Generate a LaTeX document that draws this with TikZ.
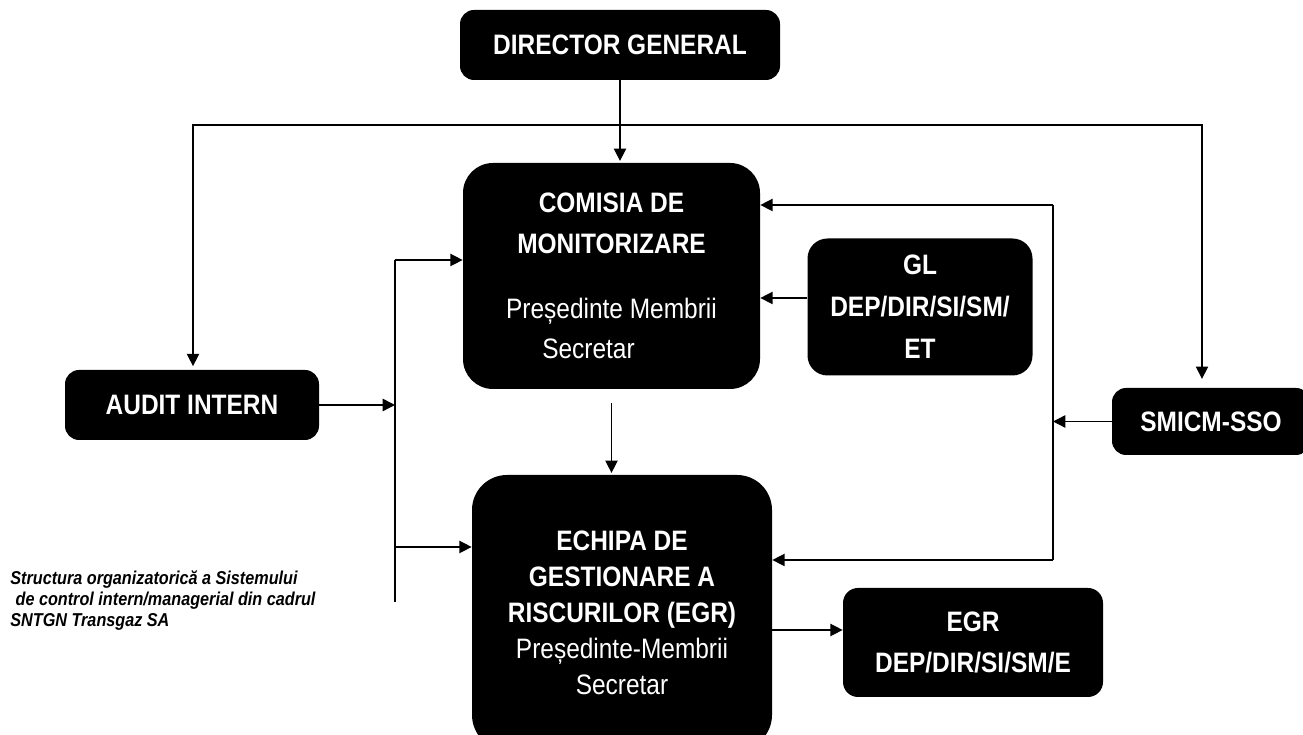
\documentclass[tikz,border=0pt]{standalone}
\usepackage{fontspec}
\setmainfont{Liberation Sans}[FakeStretch=0.87]
\usetikzlibrary{arrows.meta, positioning, calc}

\begin{document}
\begin{tikzpicture}[
  dbox/.style={fill=black, text=white, align=center, font=\bfseries\fontsize{16}{23}\selectfont, inner sep=2pt},
  arr/.style={-{Triangle[length=7pt, width=7pt]}, line width=0.8pt},
  wire/.style={line width=0.8pt}
]
  \useasboundingbox (0,0) rectangle (26.06,14.7);
  \node[dbox, rounded corners=8pt, minimum width=6.4cm, minimum height=1.4cm] (dg) at (12.4, 13.8) {DIRECTOR GENERAL};
  \node[dbox, rounded corners=0.6cm, minimum width=5.94cm, minimum height=4.52cm] (com) at (12.23, 9.18)
    {COMISIA DE\\MONITORIZARE\\[14pt]\mdseries Președinte Membrii\\\mdseries\hspace*{-0.92cm}Secretar};
  \node[dbox, rounded corners=0.4cm, minimum width=4.5cm, minimum height=2.74cm, font=\bfseries\fontsize{16}{24}\selectfont] (gl) at (18.4, 8.56)
    {GL\\DEP/DIR/SI/SM/\\ET};
  \node[dbox, rounded corners=8pt, minimum width=5.08cm, minimum height=1.4cm] (audit) at (3.84, 6.6) {AUDIT INTERN};
  \node[dbox, rounded corners=8pt, minimum width=3.96cm, minimum height=1.34cm] (smicm) at (24.22, 6.27) {SMICM-SSO};
  \node[dbox, rounded corners=0.7cm, minimum width=6cm, minimum height=5.5cm, font=\bfseries\fontsize{16}{20.5}\selectfont] (ech) at (12.44, 2.45)
    {ECHIPA DE\\GESTIONARE A\\RISCURILOR (EGR)\\\mdseries Președinte-Membrii\\\mdseries Secretar};
  \node[dbox, rounded corners=0.3cm, minimum width=5.2cm, minimum height=2.18cm, font=\bfseries\fontsize{16}{22.8}\selectfont] (egr) at (19.46, 1.85)
    {EGR\\DEP/DIR/SI/SM/E};
  \node[anchor=north west, align=left, inner sep=0pt, font=\bfseries\itshape\fontsize{10.6}{12}\selectfont] (caption) at (0.2, 3.3)
    {Structura organizatorică a Sistemului\\\hspace*{3pt}de control intern/managerial din cadrul\\SNTGN Transgaz SA};

  \coordinate (topL) at (3.86, 12.2);
  \coordinate (topR) at (24.04, 12.2);
  \coordinate (lt) at (7.9, 9.5);
  \coordinate (lm) at (7.9, 3.76);
  \coordinate (lb) at (7.9, 2.66);
  \coordinate (rt) at (21.06, 10.6);
  \coordinate (rb) at (21.06, 3.5);

  \draw[{Triangle[length=7pt, width=7pt]}-{Triangle[length=7pt, width=7pt]}, wire, shorten <=2pt, shorten >=5pt]
    (topL |- audit.north) -- (topL) -- (topR) -- (topR |- smicm.north);
  \draw[arr, shorten >=1pt] (dg.south) -- (dg.south |- com.north);
  \draw[wire] (lt) -- (lb);
  \draw[arr] (lt) -- (lt -| com.west);
  \draw[arr] (lm) -- (lm -| ech.west);
  \draw[arr] (audit.east) -- (audit.east -| lt);
  \draw[wire] (rt) -- (rb);
  \draw[arr] (rt) -- (rt -| com.east);
  \draw[arr] (rb) -- (rb -| ech.east);
  \draw[arr] (smicm.west) -- (smicm.west -| rt);
  \draw[arr] ([yshift=0.18cm]gl.west) -- ([yshift=0.18cm]gl.west -| com.east);
  \draw[arr, shorten <=8pt, shorten >=1pt] (com.south) -- (com.south |- ech.north);
  \draw[arr] ([yshift=0.25cm]egr.west -| ech.east) -- ([yshift=0.25cm]egr.west);
\end{tikzpicture}
\end{document}
